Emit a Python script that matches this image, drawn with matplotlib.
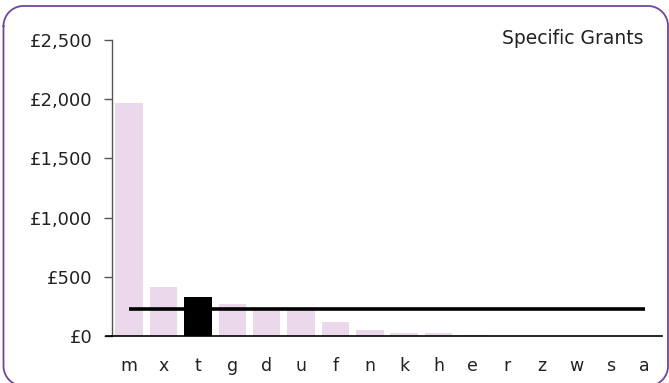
import matplotlib
matplotlib.use("Agg")
import numpy as np
import matplotlib.pyplot as plt
from matplotlib.lines import Line2D

categories = ["m", "x", "t", "g", "d", "u", "f", "n", "k", "h", "e", "r", "z", "w", "s", "a"]
values = [1965, 414, 329, 270, 231, 231, 121, 51, 28, 28, 8, 0, 0, 0, 0, 0]
highlight = "t"
average = 228
yticks = [0, 500, 1000, 1500, 2000, 2500]
ytick_labels = ["£0", "£500", "£1,000", "£1,500", "£2,000", "£2,500"]
title = "Specific Grants"

W, H = 669, 383
plt.rcParams['font.family'] = ['DejaVu Sans']
fig = plt.figure(figsize=(W / 100, H / 100), dpi=100)

# background axes in pixel units for the rounded border
bg = fig.add_axes([0, 0, 1, 1], zorder=0)
bg.set_xlim(0, W)
bg.set_ylim(H, 0)
bg.axis("off")
x0, y0, x1, y1, r = 3.5, 6.0, 668.0, 386.0, 20.0
pts = []
def arc(cx, cy, a0, a1):
    t = np.linspace(np.radians(a0), np.radians(a1), 30)
    return list(zip(cx + r * np.cos(t), cy + r * np.sin(t)))
pts += arc(x0 + r, y0 + r, 180, 270)      # top-left
pts += arc(x1 - r, y0 + r, 270, 360)      # top-right
pts += arc(x1 - r, y1 - r, 0, 90)         # bottom-right
pts += arc(x0 + r, y1 - r, 90, 180)       # bottom-left
pts.append(pts[0])
px, py = zip(*pts)
bg.plot(px, py, color="#7443a0", linewidth=1.3, clip_on=False)

left, right, bottom, top = 112 / W, 662 / W, 1 - 336 / H, 1 - 40 / H
ax = fig.add_axes([left, bottom, right - left, top - bottom], zorder=1)
ax.patch.set_alpha(0)

x = list(range(len(categories)))
colors = ["#000000" if c == highlight else "#ebd9eb" for c in categories]
ax.bar(x, values, width=0.8, color=colors, zorder=2)
ax.plot([x[0], x[-1]], [average, average], color="black", linewidth=2.6, zorder=3,
        solid_capstyle="butt")

ax.set_xlim(-0.5, len(categories) - 0.5)
ax.set_ylim(0, 2500)
ax.set_yticks(yticks)
ax.set_yticklabels(ytick_labels)
ax.set_xticks(x)
ax.set_xticklabels(categories)

for s in ["top", "right"]:
    ax.spines[s].set_visible(False)
ax.spines["left"].set_color("#555555")
ax.spines["left"].set_linewidth(1.0)
ax.spines["bottom"].set_color("black")
ax.spines["bottom"].set_linewidth(1.2)

ax.tick_params(axis="y", direction="out", length=6, width=1.0, color="#555555",
               labelsize=13, labelcolor="#222222", pad=8)
ax.tick_params(axis="x", length=0, labelsize=12.5, labelcolor="#222222", pad=15)

# extend baseline left to tick end
ax.add_line(Line2D([-6 / (right - left) / W, 0], [0, 0], transform=ax.transAxes,
                   color="black", linewidth=1.2, clip_on=False))

fig.text(644 / W, 1 - 38 / H, title, ha="right", va="center", fontsize=13.5,
         color="#222222")

fig.savefig("out.png", dpi=100)
